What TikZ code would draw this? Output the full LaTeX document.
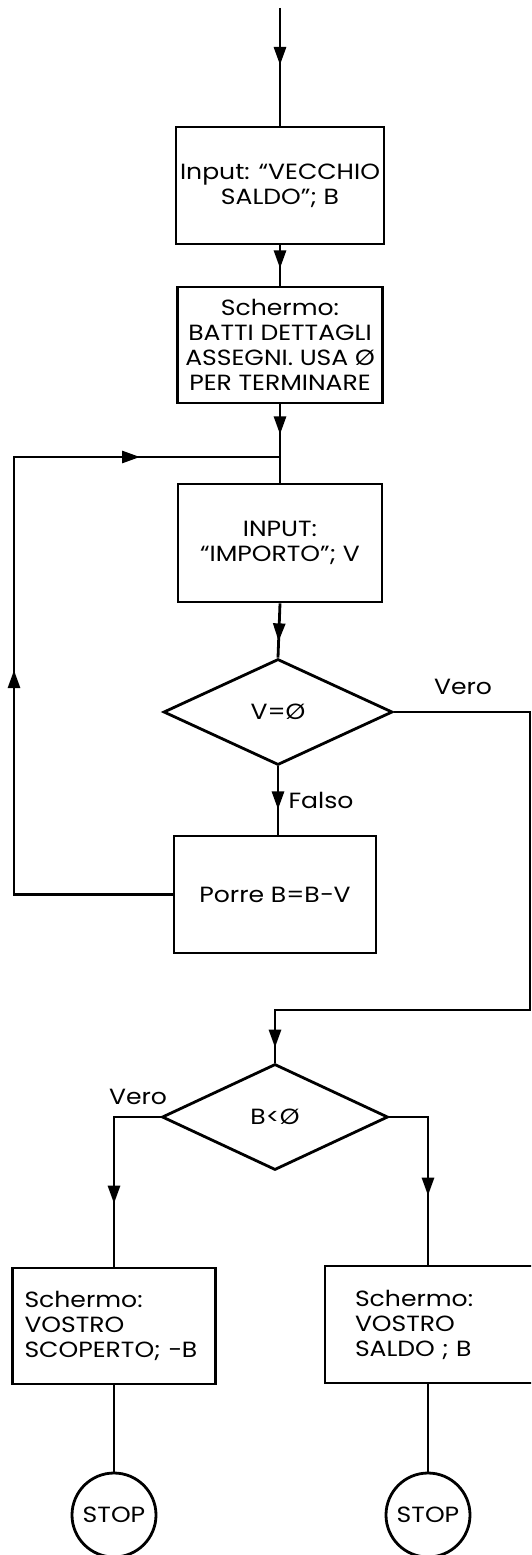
\documentclass[tikz,border=0pt]{standalone}
\usepackage{fontspec}
\setmainfont{Poppins}[FakeStretch=1.14]
\usetikzlibrary{arrows.meta,shapes.geometric,decorations.markings}
\tikzset{
  >={Triangle[length=18pt,width=12pt]},
  txt/.style={font=\fontsize{22}{25}\selectfont},
  box/.style={draw,line width=2.8pt,rectangle,inner sep=0pt,align=center,txt},
  dia/.style={draw,line width=2.8pt,diamond,inner sep=0pt,txt},
  stopc/.style={draw,circle,line width=2.8pt,minimum size=84pt,inner sep=0pt,txt},
  ln/.style={line width=2.8pt},
  arr/.style={postaction={decorate,decoration={markings,mark=at position #1 with {\arrow{>}}}}},
  lbl/.style={txt,inner sep=0pt}
}
\begin{document}
\begin{tikzpicture}[x=1pt,y=-1pt]
\useasboundingbox (0,0) rectangle (531,1555);
\clip (0,0) rectangle (531,1555);
\coordinate (start) at (280,8);
\node[box,minimum width=208pt,minimum height=117pt] (b1) at (280,185.5) {Input: “VECCHIO\\SALDO”; B};
\node[box,minimum width=205pt,minimum height=116pt] (b2) at (280,345) {Schermo:\\BATTI DETTAGLI\\ASSEGNI. USA Ø\\PER TERMINARE};
\coordinate (j) at (280,457);
\coordinate (lt) at (14,457);
\node[box,minimum width=204pt,minimum height=118pt] (b3) at (280,543) {INPUT:\\“IMPORTO”; V};
\node[dia,minimum width=229pt,minimum height=106pt] (d1) at (278,712) {V=Ø};
\node[box,minimum width=202pt,minimum height=117pt] (b4) at (275,894.5) {Porre B=B−V};
\coordinate (fb) at (d1.south |- b4.north);
\coordinate (rv) at (530,1010);
\node[dia,minimum width=226pt,minimum height=106pt] (d2) at (275,1117) {B<Ø};
\node[box,align=left,text width=179pt,inner xsep=12pt,minimum height=116pt] (b5) at (114,1326) {Schermo:\\VOSTRO\\SCOPERTO; −B};
\node[box,align=left,text width=180pt,inner xsep=30pt,minimum height=117pt] (b6) at (445,1324.5) {Schermo:\\VOSTRO\\SALDO ; B};
\node[stopc] (c1) at (114,1515) {STOP};
\node[stopc] (c2) at (428,1515) {STOP};
\coordinate (r6) at (c2 |- b6.north);
\coordinate (r6b) at (c2 |- b6.south);

\draw[ln,arr=57pt] (start) -- (b1.north);
\draw[ln,arr=23pt] (b1.south) -- (b2.north);
\draw[ln,arr=30pt] (b2.south) -- (j);
\draw[ln] (j) -- (b3.north);
\draw[ln,arr=38pt] (b3.south) -- (d1.north);
\draw[ln,arr=43pt] (d1.south) -- (fb);
\draw[ln,arr=383pt,arr=-140pt] (b4.west) -| (lt) -- (j);
\draw[ln,arr=-15pt] (d1.east) -| (rv) -| (d2.north);
\draw[ln,arr=-63pt] (d2.west) -| (b5.north);
\draw[ln,arr=-69pt] (d2.east) -| (r6);
\draw[ln] (b5.south) -- (c1.north);
\draw[ln] (r6b) -- (c2.north);

\node[lbl] (lv1) at (463,687) {Vero};
\node[lbl] (lf) at (321,800) {Falso};
\node[lbl] (lv2) at (138,1097) {Vero};
\end{tikzpicture}
\end{document}
